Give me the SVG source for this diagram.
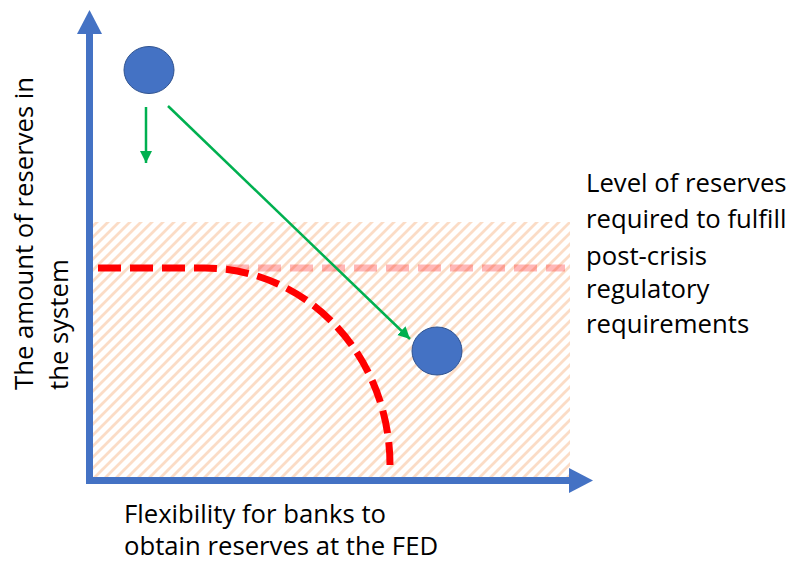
<svg xmlns="http://www.w3.org/2000/svg" width="794" height="562" viewBox="0 0 794 562">
<defs>
<pattern id="hatch" patternUnits="userSpaceOnUse" width="11" height="11">
<path d="M-2,2 L2,-2 M0,11 L11,0 M9,13 L13,9" stroke="#fbdcc6" stroke-width="2.8"/>
</pattern>
<marker id="gh" markerUnits="userSpaceOnUse" markerWidth="14" markerHeight="14" refX="12" refY="6" orient="auto">
<path d="M0,0 L12,6 L0,12 Z" fill="#00b050"/>
</marker>
<style>
.lbl{font-family:"Open Sans","Liberation Sans",sans-serif;font-size:25.7px;fill:#000}
.axis{stroke:#4472c4;stroke-width:7;fill:none}
.head{fill:#4472c4}
.dot{fill:#4472c4;stroke:#2f528f;stroke-width:1}
.grn{stroke:#00b050;stroke-width:2.5;fill:none;marker-end:url(#gh)}
.red{stroke:#ff0000;stroke-width:7;fill:none;stroke-dasharray:23 9}
</style>
</defs>
<rect id="region" x="93" y="222" width="477" height="256" fill="url(#hatch)"/>
<g id="axes">
<line class="axis" x1="89.5" y1="484" x2="89.5" y2="30"/>
<polygon class="head" points="89.5,10 102,34 77,34"/>
<line class="axis" x1="86" y1="480.5" x2="572" y2="480.5"/>
<polygon class="head" points="593,480.5 569,468 569,493"/>
</g>
<g id="curves">
<path class="red" d="M98,268 H205 A185,197 0 0 1 390,465"/>
<path class="red" d="M226,268 H565" opacity="0.28"/>
</g>
<g id="connectors">
<line class="grn" x1="146" y1="107" x2="146" y2="163"/>
<line class="grn" x1="168" y1="106" x2="410" y2="339"/>
</g>
<g id="node-start"><ellipse class="dot" cx="149" cy="70" rx="25" ry="23.5"/></g>
<g id="node-end"><ellipse class="dot" cx="437" cy="351" rx="25" ry="24"/></g>
<g id="label-y">
<text class="lbl" transform="translate(33,390) rotate(-90)">The amount of reserves in</text>
<text class="lbl" transform="translate(68,390) rotate(-90)">the system</text>
</g>
<g id="label-x">
<text class="lbl" x="124" y="523">Flexibility for banks to</text>
<text class="lbl" x="124" y="555">obtain reserves at the FED</text>
</g>
<g id="label-level">
<text class="lbl" x="586" y="192">Level of reserves</text>
<text class="lbl" x="586" y="228">required to fulfill</text>
<text class="lbl" x="586" y="265">post-crisis</text>
<text class="lbl" x="586" y="298">regulatory</text>
<text class="lbl" x="586" y="333">requirements</text>
</g>
</svg>
